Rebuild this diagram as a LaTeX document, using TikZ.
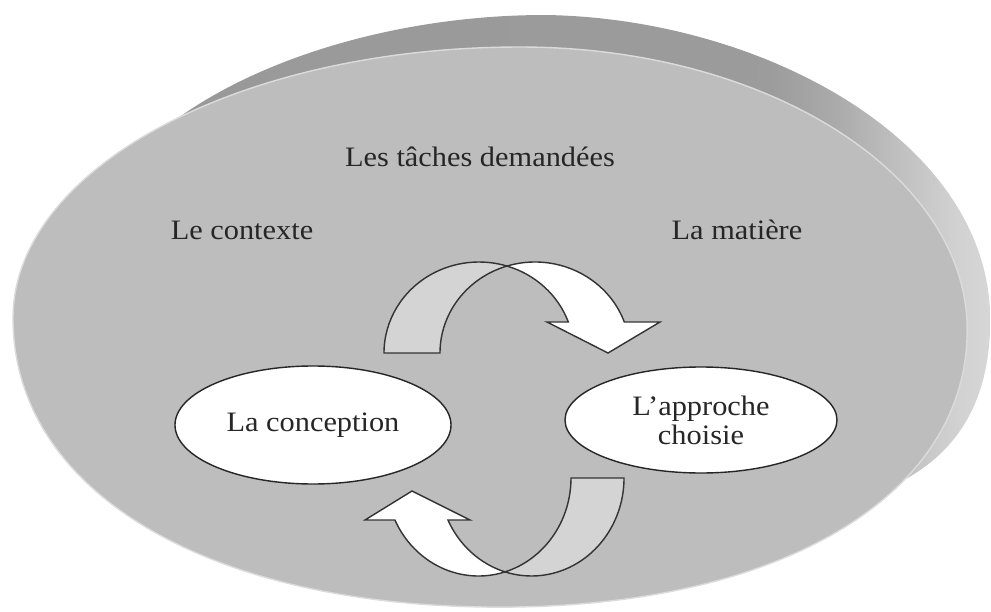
\documentclass[tikz,border=0pt]{standalone}
\usepackage{fontspec}
\setmainfont{Liberation Serif}[FakeStretch=1.08]
\usepackage{xcolor}
\usepackage{tikz}
\usetikzlibrary{shapes,calc}
\pgfdeclarehorizontalshading{rimshade}{100bp}{color(0bp)=(black!40); color(25bp)=(black!40); color(62bp)=(black!39); color(66bp)=(black!33); color(70bp)=(black!24); color(73bp)=(black!18); color(75bp)=(black!16); color(100bp)=(black!16)}

\begin{document}
\begin{tikzpicture}[
  plaintext/.style={font=\fontsize{16}{16.5}\selectfont, text=black!85},
  bubble/.style={ellipse, draw=black!85, fill=white, line width=0.8pt, inner sep=0pt, align=center, font=\fontsize{16}{16.5}\selectfont, text=black!85},
  backband/.style={draw=black!80, line width=0.8pt, fill=black!17},
  frontband/.style={draw=black!80, line width=0.8pt, fill=white}
]
\useasboundingbox (0,0) rectangle (19.82,-12.24);

% Disc: rim behind, top face in front (pixel units)
\begin{scope}[x=0.02cm, y=-0.02cm]
  \shade[shading=rimshade] (140,150) .. controls (220,70) and (380,15) .. (545,15)
    .. controls (760,18) and (990,140) .. (990,320)
    .. controls (990,420) and (940,470) .. (870,495) -- (700,300) -- cycle;
  \filldraw[fill=black!26, draw=black!14, line width=0.8pt] (13,318)
    .. controls (13,492) and (208,607) .. (500,607)
    .. controls (780,607) and (967,496) .. (967,330)
    .. controls (967,174) and (767,47) .. (520,47)
    .. controls (240,47) and (13,168) .. cycle;
\end{scope}

% Texts on the disc
\node[plaintext] (tasks) at (9.6,-3.14) {Les tâches demandées};
\node[plaintext] (context) at (4.84,-4.6) {Le contexte};
\node[plaintext] (subject) at (14.74,-4.6) {La matière};

% The two ellipses
\node[bubble, minimum width=5.52cm, minimum height=2.36cm] (design) at (6.26,-8.5) {La conception};
\node[bubble, minimum width=5.44cm, minimum height=2.12cm] (approach) at (14.02,-8.4) {L'approche\\choisie};

% Upper arrow
\coordinate (ua) at (9.58,-7.06);
\coordinate (ub) at (10.70,-7.06);
\path[backband] (ua) ++(180:1.9 and 1.82) arc[start angle=180, end angle=72.86, x radius=1.9, y radius=1.82]
  arc[start angle=107.14, end angle=180, x radius=1.9, y radius=1.82] -- cycle;
\path[frontband] (ua) ++(72.86:1.9 and 1.82) arc[start angle=107.14, end angle=19.92, x radius=1.9, y radius=1.82]
  -- (13.2,-6.44) -- (12.16,-7.06) -- (10.94,-6.44) -- ($(ua)+(19.92:1.9 and 1.82)$)
  arc[start angle=19.92, end angle=72.86, x radius=1.9, y radius=1.82] -- cycle;

% Lower arrow
\coordinate (lc) at (10.63,-9.56);
\coordinate (ld) at (9.57,-9.56);
\path[backband] (lc) ++(0:1.85 and 1.96) arc[start angle=0, end angle=-106.65, x radius=1.85, y radius=1.96]
  arc[start angle=-73.35, end angle=0, x radius=1.85, y radius=1.96] -- cycle;
\path[frontband] (ld) ++(-73.35:1.85 and 1.96) arc[start angle=-73.35, end angle=-154.62, x radius=1.85, y radius=1.96]
  -- (7.3,-10.4) -- (8.24,-9.82) -- (9.4,-10.4) -- ($(lc)+(-154.62:1.85 and 1.96)$)
  arc[start angle=-154.62, end angle=-106.65, x radius=1.85, y radius=1.96] -- cycle;

\end{tikzpicture}
\end{document}
